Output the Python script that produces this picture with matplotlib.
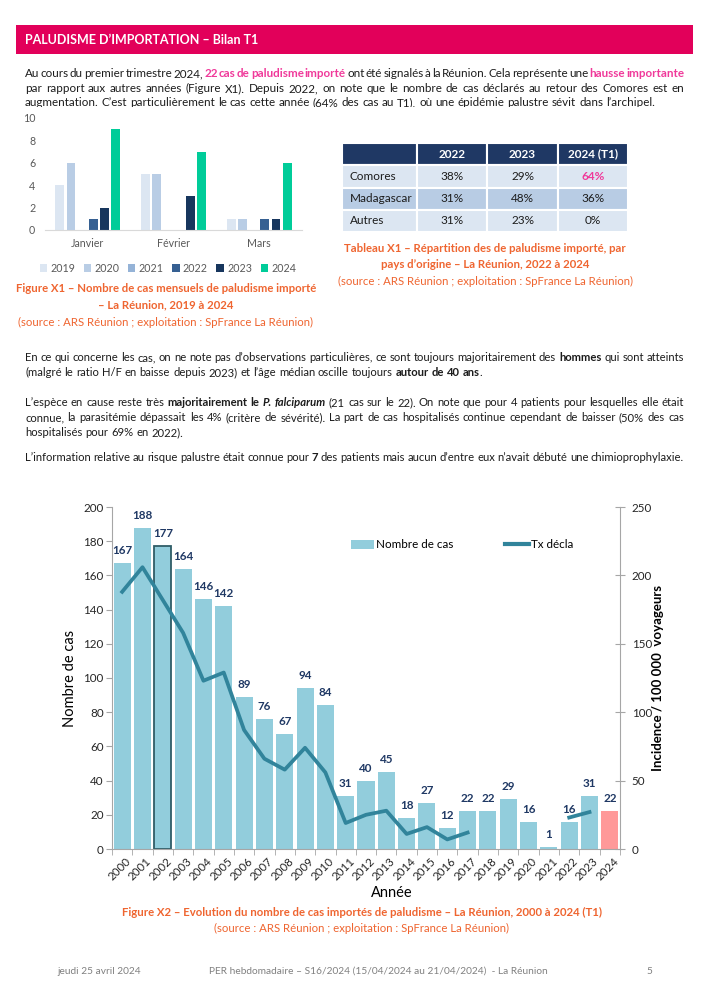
import numpy as np
import matplotlib
matplotlib.use('Agg')
import matplotlib.pyplot as plt
from matplotlib.patches import Rectangle, Patch
from matplotlib.lines import Line2D

plt.rcParams['font.family'] = ['Lato', 'DejaVu Sans']

# Figure X1 : cas mensuels
months = ['Janvier', 'Février', 'Mars']
x1_years = ['2019', '2020', '2021', '2022', '2023', '2024']
cases_2019 = [4, 5, 1]
cases_2020 = [6, 5, 1]
cases_2021 = [0, 0, 0]
cases_2022 = [1, 0, 1]
cases_2023 = [2, 3, 1]
cases_2024 = [9, 7, 6]

# Tableau X1 : pays d'origine
table_header = ['', '2022', '2023', '2024 (T1)']
origins = ['Comores', 'Madagascar', 'Autres']
share_2022 = ['38%', '31%', '31%']
share_2023 = ['29%', '48%', '23%']
share_2024 = ['64%', '36%', '0%']

# Figure X2 : cas importés 2000-2024
years = [str(y) for y in range(2000, 2025)]
nb_cas = [167, 188, 177, 164, 146, 142, 89, 76, 67, 94, 84, 31, 40, 45, 18,
          27, 12, 22, 22, 29, 16, 1, 16, 31, 22]
nan = np.nan
tx_decla = [188, 206, 182, 158, 123, 129, 87, 66, 58, 74, 56, 19, 25, 28, 11,
            16, 7, 12, nan, nan, nan, nan, 23, 27, nan]

W, H = 707, 1000
fig = plt.figure(figsize=(7.07, 10), dpi=100)
renderer = fig.canvas.get_renderer()

TXT = '#1c1c1c'
PINK = '#F0399A'
ORANGE = '#EF6530'
NAVY = '#1F3864'
BODY = 8.4


def fx(x):
    return x / W


def fy(y):
    return 1 - y / H


def put(x, y, s, **kw):
    return fig.text(fx(x), fy(y), s, **kw)


def write_line(y, runs, justify=True, x0=25, x1=684, size=BODY):
    # runs = list of (text, extra props); words split on spaces
    words = []
    glue = False
    for s, props in runs:
        parts = s.split(' ')
        for i, p in enumerate(parts):
            if p == '':
                continue
            if i == 0 and glue and words:
                words[-1].append((p, props))
            else:
                words.append([(p, props)])
        glue = not s.endswith(' ')
    placed = []
    total = 0
    for word in words:
        frags = []
        for p, props in word:
            kw = dict(fontsize=size, color=TXT)
            kw.update(props)
            t = fig.text(0, 0, p, ha='left', va='baseline', **kw)
            w = t.get_window_extent(renderer).width
            frags.append((t, w))
            total += w
        placed.append(frags)
    t1 = fig.text(0, 0, 'a a', fontsize=size)
    t2 = fig.text(0, 0, 'aa', fontsize=size)
    space = t1.get_window_extent(renderer).width - t2.get_window_extent(renderer).width
    t1.remove()
    t2.remove()
    if justify and len(placed) > 1:
        gap = (x1 - x0 - total) / (len(placed) - 1)
    else:
        gap = space
    x = x0
    for frags in placed:
        for t, w in frags:
            t.set_position((fx(x), fy(y)))
            x += w
        x += gap


B = dict(fontweight='bold')
PB = dict(fontweight='bold', color=PINK)
BI = dict(fontweight='bold', fontstyle='italic')

# bandeau titre
fig.add_artist(Rectangle((fx(16), fy(54)), (693 - 16) / W, 29 / H,
                         transform=fig.transFigure, facecolor='#E2005A', edgecolor='none'))
put(25, 40, 'PALUDISME D’IMPORTATION – Bilan T1', color='white', fontsize=9,
    fontweight='bold', va='center')

write_line(77, [('Au cours du premier trimestre 2024, ', {}), ('22 cas de paludisme importé', PB),
                (' ont été signalés à la Réunion. Cela représente une ', {}), ('hausse importante', PB)])
write_line(92, [('par rapport aux autres années (Figure X1). Depuis 2022, on note que le nombre de cas '
                 'déclarés au retour des Comores est en', {})])
write_line(106, [('augmentation. C’est particulièrement le cas cette année (64% des cas au T1), où une '
                  'épidémie palustre sévit dans l’archipel.', {})], justify=False)
fig.add_artist(Rectangle((0, fy(113)), 1, 6.5 / H, transform=fig.transFigure,
                         facecolor='white', edgecolor='none', zorder=10))

# Figure X1
ax1 = fig.add_axes([fx(45), fy(230), (302 - 45) / W, (230 - 118) / H])
x1_series = [cases_2019, cases_2020, cases_2021, cases_2022, cases_2023, cases_2024]
x1_colors = ['#DCE6F2', '#B9CDE5', '#95B3D7', '#366092', '#17365D', '#00CC99']
xm = np.arange(len(months))
for i, vals in enumerate(x1_series):
    ax1.bar(xm + (i - 2.5) * 0.131, vals, width=0.105, color=x1_colors[i], label=x1_years[i])
ax1.set_xlim(-0.5, 2.5)
ax1.set_ylim(0, 10)
ax1.set_yticks(range(0, 11, 2))
ax1.set_xticks(xm)
ax1.set_xticklabels(months)
for s in ['top', 'right', 'left']:
    ax1.spines[s].set_visible(False)
ax1.spines['bottom'].set_color('#D9D9D9')
ax1.tick_params(length=0, labelsize=7.7, colors='#595959')
ax1.tick_params(axis='y', pad=7)
ax1.tick_params(axis='x', pad=6)
ax1.legend(ncol=6, loc='center', bbox_to_anchor=(fx(168), fy(268)), bbox_transform=fig.transFigure,
           frameon=False, fontsize=7.7, handlelength=0.7, handleheight=0.7, handletextpad=0.3,
           columnspacing=0.8, labelcolor='#595959', borderpad=0)

put(166, 288, 'Figure X1 – Nombre de cas mensuels de paludisme importé', color=ORANGE,
    fontsize=8.2, fontweight='bold', ha='center', va='center')
put(166, 305, '– La Réunion, 2019 à 2024', color=ORANGE, fontsize=8.2, fontweight='bold',
    ha='center', va='center')
put(166, 322, '(source : ARS Réunion ; exploitation : SpFrance La Réunion)', color=ORANGE,
    fontsize=8.2, ha='center', va='center')

# Tableau X1
axt = fig.add_axes([fx(342), fy(232), (628 - 342) / W, (232 - 143) / H])
axt.axis('off')
cells = [table_header] + [[origins[i], share_2022[i], share_2023[i], share_2024[i]] for i in range(3)]
tab = axt.table(cellText=cells, colWidths=[75 / 286, 70 / 286, 71 / 286, 70 / 286],
                bbox=[0, 0, 1, 1], cellLoc='center')
tab.auto_set_font_size(False)
row_colors = ['#1F3864', '#DCE6F2', '#B8CCE4', '#DCE6F2']
for (r, c), cell in tab.get_celld().items():
    cell.set_facecolor(row_colors[r])
    cell.set_edgecolor('white')
    cell.set_linewidth(1.5)
    txt = cell.get_text()
    txt.set_fontsize(8.5)
    txt.set_color(TXT)
    if r == 0:
        txt.set_color('white')
        txt.set_fontweight('bold')
    if c == 0:
        cell._loc = 'left'
        txt.set_ha('left')
    if r == 1 and c == 3:
        txt.set_color(PINK)
        txt.set_fontweight('bold')

put(485, 248, 'Tableau X1 – Répartition des de paludisme importé, par', color=ORANGE,
    fontsize=8.2, fontweight='bold', ha='center', va='center')
put(485, 265, 'pays d’origine – La Réunion, 2022 à 2024', color=ORANGE, fontsize=8.2,
    fontweight='bold', ha='center', va='center')
put(485, 281, '(source : ARS Réunion ; exploitation : SpFrance La Réunion)', color=ORANGE,
    fontsize=8.2, ha='center', va='center')

# texte central
MID = 8.1
write_line(361, [('En ce qui concerne les cas, on ne note pas d’observations particulières, ce sont toujours '
                  'majoritairement des ', {}), ('hommes', B), (' qui sont atteints', {})], size=MID)
write_line(376, [('(malgré le ratio H/F en baisse depuis 2023) et l’âge médian oscille toujours ', {}),
                 ('autour de 40 ans', B), ('.', {})], justify=False, size=MID)
write_line(406, [('L’espèce en cause reste très ', {}), ('majoritairement le ', B), ('P. falciparum', BI),
                 (' (21 cas sur le 22). On note que pour 4 patients pour lesquelles elle était', {})],
           size=MID)
write_line(421, [('connue, la parasitémie dépassait les 4% (critère de sévérité). La part de cas hospitalisés '
                  'continue cependant de baisser (50% des cas', {})], size=MID)
write_line(436, [('hospitalisés pour 69% en 2022).', {})], justify=False, size=MID)
write_line(461, [('L’information relative au risque palustre était connue pour ', {}), ('7', B),
                 (' des patients mais aucun d’entre eux n’avait débuté une chimioprophylaxie.', {})],
           size=MID)

# Figure X2
ax2 = fig.add_axes([fx(112), fy(849), (620 - 112) / W, (849 - 507) / H])
xs = np.arange(len(years))
bar_colors = ['#92CDDC'] * (len(years) - 1) + ['#FF9999']
edge_colors = ['none'] * len(years)
edge_colors[2] = '#2F5D67'
ax2.bar(xs, nb_cas, width=0.84, color=bar_colors, edgecolor=edge_colors, linewidth=1.3,
        label='Nombre de cas')
for i, v in enumerate(nb_cas):
    ax2.annotate(str(v), (i, v), xytext=(0, 9), textcoords='offset points', ha='center',
                 va='center', fontsize=8.4, fontweight='bold', color=NAVY)
ax2.set_xlim(-0.5, len(years) - 0.5)
ax2.set_ylim(0, 200)
ax2.set_yticks(range(0, 201, 20))
ax2.set_xticks(xs + 0.15)
ax2.set_xticklabels(years, rotation=45, ha='right', va='top', rotation_mode='anchor')
ax2.set_xticks(np.arange(-0.5, len(years), 1), minor=True)
ax2.tick_params(axis='x', which='major', length=0, labelsize=8.3, colors='#262626', pad=5)
ax2.tick_params(axis='x', which='minor', length=4, color='#A6A6A6', direction='out')
ax2.tick_params(axis='y', length=4, color='#A6A6A6', labelsize=8.4, labelcolor='#262626', pad=2)
ax2.spines['top'].set_visible(False)
ax2.spines['right'].set_visible(False)
ax2.spines['left'].set_color('#A6A6A6')
ax2.spines['bottom'].set_color('#A6A6A6')
ax2.set_ylabel('Nombre de cas', fontsize=10.5, color='black')
ax2.yaxis.set_label_coords((77 - 112) / 508, 0.5)
ax2.set_xlabel('Année', fontsize=10.5, color='black')
ax2.xaxis.set_label_coords((392 - 112) / 508, (849 - 886) / 342)

ax2r = ax2.twinx()
ax2r.plot(xs, tx_decla, color='#31849B', lw=2.7, label='Tx décla')
ax2r.set_ylim(0, 250)
ax2r.set_yticks(range(0, 251, 50))
ax2r.tick_params(axis='y', direction='inout', length=7, color='#A6A6A6', labelsize=8.4,
                 labelcolor='#262626', pad=5)
for s in ['top', 'left', 'bottom']:
    ax2r.spines[s].set_visible(False)
ax2r.spines['right'].set_color('#A6A6A6')
ax2r.set_ylabel('Incidence / 100 000  voyageurs', fontsize=9.5, fontweight='bold', color='black')
ax2r.yaxis.set_label_coords((652 - 112) / 508, 0.5)

handles = [Patch(facecolor='#92CDDC', edgecolor='none'), Line2D([], [], color='#31849B', lw=3)]
ax2r.legend(handles, ['Nombre de cas', 'Tx décla'], ncol=2, loc='center left',
            bbox_to_anchor=(fx(345), fy(545)), bbox_transform=fig.transFigure, frameon=False,
            fontsize=8.4, handlelength=2, handletextpad=0.2, columnspacing=4.4, borderpad=0)

put(362, 912, 'Figure X2 – Evolution du nombre de cas importés de paludisme – La Réunion, 2000 à 2024 (T1)',
    color=ORANGE, fontsize=8.2, fontweight='bold', ha='center', va='center')
put(362, 928, '(source : ARS Réunion ; exploitation : SpFrance La Réunion)', color=ORANGE,
    fontsize=8.2, ha='center', va='center')

# pied de page
put(57, 971, 'jeudi 25 avril 2024', color='#808080', fontsize=7.3, va='center')
put(209, 971, 'PER hebdomadaire – S16/2024 (15/04/2024 au 21/04/2024)  - La Réunion', color='#808080',
    fontsize=7.3, va='center')
put(646, 971, '5', color='#808080', fontsize=7.3, va='center')

fig.savefig('out.png', dpi=100)
